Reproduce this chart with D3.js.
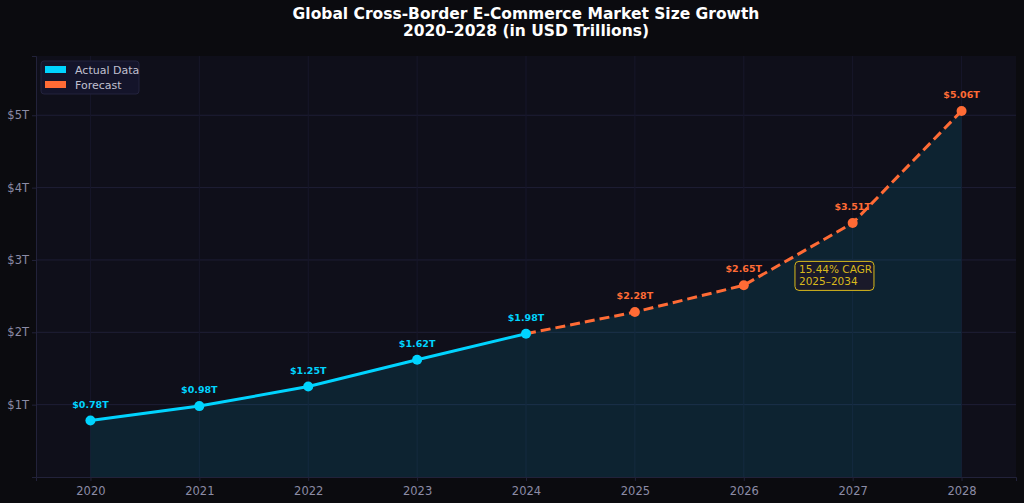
<!DOCTYPE html>
<html>
<head>
<meta charset="utf-8">
<script src="https://cdn.jsdelivr.net/npm/d3@7"></script>
<style>
  html, body { margin: 0; padding: 0; background: #0b0b0f; }
  svg { display: block; font-family: "DejaVu Sans", sans-serif; }
</style>
</head>
<body>
<svg id="chart" width="1024" height="503"></svg>
<script>
const years = [2020, 2021, 2022, 2023, 2024, 2025, 2026, 2027, 2028];
const values = [0.78, 0.98, 1.25, 1.62, 1.98, 2.28, 2.65, 3.51, 5.06];
const lastActualYear = 2024;
const yTicks = [1, 2, 3, 4, 5];

const width = 1024;
const height = 503;
const margin = { top: 56, right: 8, bottom: 26, left: 36 };

const colors = {
  actual: "#00d4ff",
  forecast: "#ff6b35",
  gold: "#d9b91c"
};

const svg = d3.select("#chart");

svg.append("rect")
  .attr("width", width)
  .attr("height", height)
  .attr("fill", "#0b0b0f");

const data = years.map((y, i) => ({ year: y, value: values[i] }));
const actual = data.filter(d => d.year <= lastActualYear);
const forecast = data.filter(d => d.year >= lastActualYear);

const x = d3.scaleLinear()
  .domain([years[0] - 0.5, years[years.length - 1] + 0.5])
  .range([margin.left, width - margin.right]);

const y = d3.scaleLinear()
  .domain([0, d3.max(values) * 1.15])
  .range([height - margin.bottom, margin.top]);

// plot background
svg.append("rect")
  .attr("x", margin.left)
  .attr("y", margin.top)
  .attr("width", width - margin.left - margin.right)
  .attr("height", height - margin.top - margin.bottom)
  .attr("fill", "#0f0f1a");

// grid
svg.append("g")
  .selectAll("line.h")
  .data(yTicks)
  .enter()
  .append("line")
  .attr("x1", margin.left)
  .attr("x2", width - margin.right)
  .attr("y1", d => y(d))
  .attr("y2", d => y(d))
  .attr("stroke", "#1e1e36")
  .attr("stroke-width", 1);

svg.append("g")
  .selectAll("line.v")
  .data(years)
  .enter()
  .append("line")
  .attr("x1", d => x(d))
  .attr("x2", d => x(d))
  .attr("y1", margin.top)
  .attr("y2", height - margin.bottom)
  .attr("stroke", "#17172a")
  .attr("stroke-width", 1);

// area fill
const area = d3.area()
  .x(d => x(d.year))
  .y0(y(0))
  .y1(d => y(d.value));

svg.append("path")
  .datum(data)
  .attr("d", area)
  .attr("fill", colors.actual)
  .attr("fill-opacity", 0.1);

// axes
const xAxis = d3.axisBottom(x)
  .tickValues(years)
  .tickFormat(d3.format("d"))
  .tickSize(4);

const yAxis = d3.axisLeft(y)
  .tickValues(yTicks)
  .tickFormat(d => `$${d}T`)
  .tickSize(4);

const gx = svg.append("g")
  .attr("transform", `translate(0,${height - margin.bottom})`)
  .call(xAxis);

const gy = svg.append("g")
  .attr("transform", `translate(${margin.left},0)`)
  .call(yAxis);

[gx, gy].forEach(g => {
  g.attr("font-family", "DejaVu Sans, sans-serif").attr("font-size", 11.5);
  g.select(".domain").attr("stroke", "#22223a");
  g.selectAll(".tick line").attr("stroke", "#22223a");
  g.selectAll(".tick text").attr("fill", "#8c8ca6");
});
gx.selectAll(".tick text").attr("dy", "0.95em");

// lines
const line = d3.line()
  .x(d => x(d.year))
  .y(d => y(d.value));

svg.append("path")
  .datum(actual)
  .attr("d", line)
  .attr("fill", "none")
  .attr("stroke", colors.actual)
  .attr("stroke-width", 3);

svg.append("path")
  .datum(forecast)
  .attr("d", line)
  .attr("fill", "none")
  .attr("stroke", colors.forecast)
  .attr("stroke-width", 3)
  .attr("stroke-dasharray", "10,5");

// points
svg.append("g")
  .selectAll("circle")
  .data(data)
  .enter()
  .append("circle")
  .attr("cx", d => x(d.year))
  .attr("cy", d => y(d.value))
  .attr("r", 5)
  .attr("fill", d => d.year <= lastActualYear ? colors.actual : colors.forecast);

// value labels
svg.append("g")
  .selectAll("text")
  .data(data)
  .enter()
  .append("text")
  .attr("x", d => x(d.year))
  .attr("y", d => y(d.value) - 13)
  .attr("text-anchor", "middle")
  .style("font-size", "9.5px")
  .style("font-weight", "bold")
  .attr("fill", d => d.year <= lastActualYear ? colors.actual : colors.forecast)
  .text(d => `$${d.value.toFixed(2)}T`);

// CAGR annotation
const ann = svg.append("g")
  .attr("transform", `translate(${x(2026.47)},${y(2.98)})`);

ann.append("rect")
  .attr("x", 0)
  .attr("y", 0)
  .attr("width", 79)
  .attr("height", 29)
  .attr("rx", 4)
  .attr("fill", "#1a1a2a")
  .attr("stroke", colors.gold)
  .attr("stroke-width", 1);

ann.append("text")
  .attr("x", 4)
  .attr("y", 12)
  .attr("fill", colors.gold)
  .style("font-size", "10.5px")
  .text("15.44% CAGR");

ann.append("text")
  .attr("x", 4)
  .attr("y", 24)
  .attr("fill", colors.gold)
  .style("font-size", "10.5px")
  .text("2025–2034");

// legend
const legendData = [
  { label: "Actual Data", color: colors.actual },
  { label: "Forecast", color: colors.forecast }
];

const legend = svg.append("g")
  .attr("transform", `translate(${margin.left + 5},${margin.top + 5})`);

legend.append("rect")
  .attr("width", 98)
  .attr("height", 33)
  .attr("rx", 3)
  .attr("fill", "#14142a")
  .attr("stroke", "#23233d")
  .attr("stroke-width", 1);

const items = legend.selectAll(".legend-item")
  .data(legendData)
  .enter()
  .append("g")
  .attr("transform", (d, i) => `translate(4,${3 + i * 15})`);

items.append("rect")
  .attr("width", 21)
  .attr("height", 7)
  .attr("y", 2)
  .attr("fill", d => d.color);

items.append("text")
  .attr("x", 30)
  .attr("y", 10)
  .attr("fill", "#c0c0d0")
  .style("font-size", "11px")
  .text(d => d.label);

// title, centred over the plot area
const titleX = (margin.left + width - margin.right) / 2;

svg.append("text")
  .attr("x", titleX)
  .attr("y", 19)
  .attr("text-anchor", "middle")
  .attr("fill", "#ffffff")
  .style("font-size", "15.5px")
  .style("font-weight", "bold")
  .text("Global Cross-Border E-Commerce Market Size Growth");

svg.append("text")
  .attr("x", titleX)
  .attr("y", 36)
  .attr("text-anchor", "middle")
  .attr("fill", "#ffffff")
  .style("font-size", "15.5px")
  .style("font-weight", "bold")
  .text("2020–2028 (in USD Trillions)");
</script>
</body>
</html>
